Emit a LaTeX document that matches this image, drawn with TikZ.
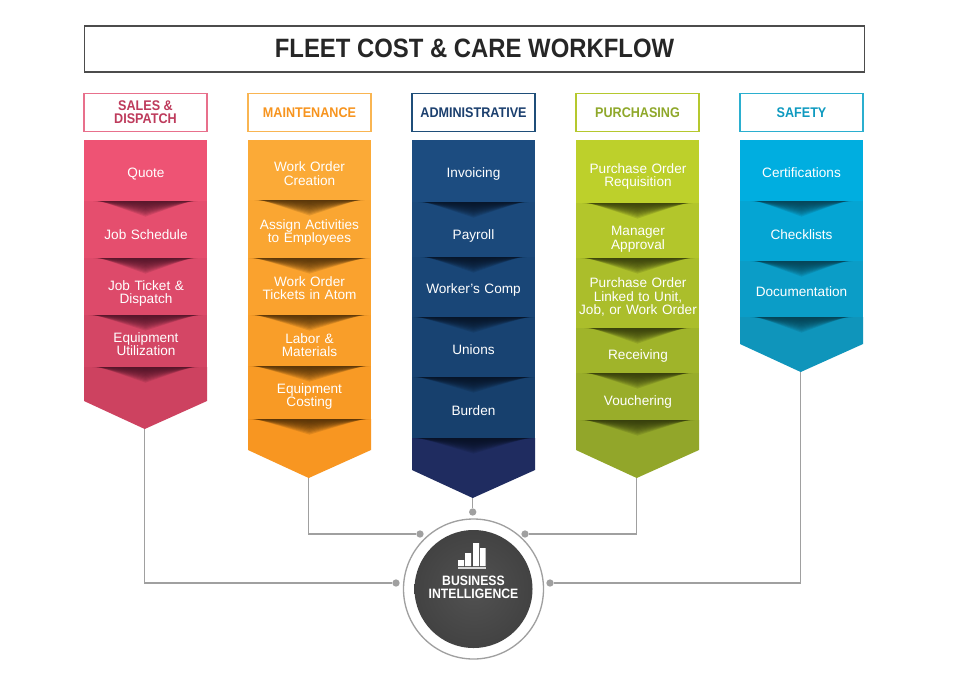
\documentclass[tikz,border=0pt]{standalone}
\usepackage{fontspec}
\setmainfont{Liberation Sans}
\newfontfamily\headf{Liberation Sans}[FakeStretch=0.9]
\newcommand{\fsize}[1]{\fontsize{#1}{#1}\selectfont}
\newcommand{\colbody}[6]{% name, cx, shoulder, colA, colB, separators
  \foreach \yy [remember=\yy as \lasty (initially 140)] in {#6}{
    \pgfmathtruncatemacro\pp{100-(\lasty-140)/(#3+28-140)*100}
    \fill[#4!\pp!#5] ({#2-61.5},\lasty) rectangle ({#2+61.5},\yy);
  }
  \coordinate (#1tip) at ({#2-0.8},#3+28);
}
\newcommand{\collast}[6]{% name cx lastsep shoulder colA colB
  \pgfmathtruncatemacro\pp{100-(#3-140)/(#4+28-140)*100}
  \fill[#5!\pp!#6] ({#2-61.5},#3) -- ({#2+61.5},#3) -- ({#2+61.5},#4) -- ({#2-0.8},#4+28) -- ({#2-61.5},#4) -- cycle;
}
\newcommand{\chev}[4]{% cx y halfwidth dark
  \foreach \k in {1,...,12}{
    \fill[#4,opacity=0.13] ({#1-#3+\k*0.7},#2) -- ({#1+#3-\k*0.7},#2) -- (#1,{#2+\k*1.3}) -- cycle;
  }
}
\tikzset{
  conn/.style={draw=linegray,line width=1pt},
  dotn/.style={circle,fill=linegray,minimum size=5.5pt,inner sep=0pt},
  stepl/.style={text=white,align=center,font=\fontsize{10.2}{10.3}\selectfont,text width=90pt,inner sep=0pt,yshift=-0.75pt},
  headb/.style={fill=white,line width=1.1pt,minimum width=92pt,minimum height=28.5pt,align=center,inner sep=0pt,font=\headf\bfseries\fsize{10.5}},
}
\definecolor{linegray}{HTML}{A0A0A0}
\definecolor{redA}{HTML}{EE5374}\definecolor{redB}{HTML}{C43E5B}\definecolor{redD}{HTML}{3E0E20}
\definecolor{redL}{HTML}{E8708C}\definecolor{redT}{HTML}{BE3B5C}
\definecolor{orA}{HTML}{FBAA37}\definecolor{orB}{HTML}{F7921C}\definecolor{orD}{HTML}{3A2204}
\definecolor{orL}{HTML}{F9B552}\definecolor{orT}{HTML}{F7941E}
\definecolor{blA}{HTML}{1C4C80}\definecolor{blM}{HTML}{143A64}\definecolor{blB}{HTML}{1F2C60}\definecolor{blD}{HTML}{060E1C}
\definecolor{blL}{HTML}{1F4E79}\definecolor{blT}{HTML}{1B3F6E}
\definecolor{grA}{HTML}{BDD02B}\definecolor{grB}{HTML}{899D2A}\definecolor{grD}{HTML}{262B08}
\definecolor{grL}{HTML}{B5C82E}\definecolor{grT}{HTML}{8FA82A}
\definecolor{cyA}{HTML}{00AEE0}\definecolor{cyB}{HTML}{148DB0}\definecolor{cyD}{HTML}{053442}
\definecolor{cyL}{HTML}{2BAFCF}\definecolor{cyT}{HTML}{0E9AC0}
\begin{document}
\begin{tikzpicture}[x=0.75pt,y=-0.75pt]
\useasboundingbox (0,0) rectangle (960,683);
\fill[white] (0,0) rectangle (960,683);
% title
\node[draw=black!70,line width=0.9pt,minimum width=585.5pt,minimum height=34.5pt,inner sep=0pt,font=\headf\bfseries\fsize{19.9},text=black!85] (title) at (474.5,49) {\raisebox{0.7pt}{FLEET COST \& CARE WORKFLOW}};
% headers
\node[headb,draw=redL,text=redT] (h1) at (145.5,112.5) {\raisebox{-0.7pt}{SALES \&}\\[-0.7pt]\raisebox{-0.7pt}{DISPATCH}};
\node[headb,draw=orL,text=orT] (h2) at (309.5,112.5) {MAINTENANCE};
\node[headb,draw=blL,text=blT] (h3) at (473.5,112.5) {ADMINISTRATIVE};
\node[headb,draw=grL,text=grT] (h4) at (637.5,112.5) {PURCHASING};
\node[headb,draw=cyL,text=cyT] (h5) at (801.5,112.5) {SAFETY};
% column bodies
\colbody{a}{145.5}{401}{redA}{redB}{201,258,315,367}
\collast{a}{145.5}{367}{401}{redA}{redB}
\colbody{b}{309.5}{450}{orA}{orB}{200,258,315,366,419}
\collast{b}{309.5}{419}{450}{orA}{orB}
\colbody{c}{473.5}{470}{blA}{blM}{202,257,317,377,438}
\collast{c}{473.5}{438}{470}{blB}{blB}
\colbody{d}{637.5}{450}{grA}{grB}{203,258,328,373,420}
\collast{d}{637.5}{420}{450}{grA}{grB}
\colbody{e}{801.5}{344}{cyA}{cyB}{201,261,317}
\collast{e}{801.5}{317}{344}{cyA}{cyB}
% chevrons
\chev{145.5}{201}{53}{redD}
\chev{145.5}{258}{53}{redD}
\chev{145.5}{315}{58}{redD}
\chev{145.5}{367}{54}{redD}
\chev{309.5}{200}{56}{orD}
\chev{309.5}{258}{61.5}{orD}
\chev{309.5}{315}{60}{orD}
\chev{309.5}{366}{61.5}{orD}
\chev{309.5}{419}{61.5}{orD}
\chev{473.5}{202}{56}{blD}
\chev{473.5}{257}{54}{blD}
\chev{473.5}{317}{61.5}{blD}
\chev{473.5}{377}{61.5}{blD}
\chev{473.5}{438}{61.5}{blD}
\chev{637.5}{203}{56}{grD}
\chev{637.5}{258}{58}{grD}
\chev{637.5}{328}{54}{grD}
\chev{637.5}{373}{56}{grD}
\chev{637.5}{420}{58}{grD}
\chev{801.5}{201}{52}{cyD}
\chev{801.5}{261}{52}{cyD}
\chev{801.5}{317}{52}{cyD}
% step labels
\node[stepl] (a1) at (146,173.5) {Quote};
\node[stepl] (a2) at (146,234) {Job Schedule};
\node[stepl] (a3) at (146,292.5) {Job Ticket \&\\Dispatch};
\node[stepl] (a4) at (146,343) {Equipment\\Utilization};
\node[stepl] (b1) at (309.5,172.5) {Work Order\\Creation};
\node[stepl] (b2) at (309.5,231.5) {Assign Activities\\to Employees};
\node[stepl] (b3) at (309.5,287) {Work Order\\Tickets in Atom};
\node[stepl] (b4) at (309.5,344) {Labor \&\\Materials};
\node[stepl] (b5) at (309.5,395.5) {Equipment\\Costing};
\node[stepl] (c1) at (473.5,172.5) {Invoicing};
\node[stepl] (c2) at (473.5,234.5) {Payroll};
\node[stepl] (c3) at (473.5,288.5) {Worker’s Comp};
\node[stepl] (c4) at (473.5,349) {Unions};
\node[stepl] (c5) at (473.5,410) {Burden};
\node[stepl] (d1) at (638,175.5) {Purchase Order\\Requisition};
\node[stepl] (d2) at (638,238.5) {Manager\\Approval};
\node[stepl] (d3) at (638,296) {Purchase Order\\Linked to Unit,\\Job, or Work Order};
\node[stepl] (d4) at (638,354.5) {Receiving};
\node[stepl] (d5) at (638,400.5) {Vouchering};
\node[stepl] (e1) at (801.5,172) {Certifications};
\node[stepl] (e2) at (801.5,234) {Checklists};
\node[stepl] (e3) at (801.5,290.5) {Documentation};
% hub
\node[circle,draw=linegray,fill=white,line width=1pt,minimum size=105pt,inner sep=0pt] (ring) at (473.5,589) {};
\node[circle,inner color=black!68,outer color=black!74,minimum size=88.5pt,inner sep=0pt] (hub) at (473.5,589) {};
\fill[white] (458,560) rectangle (464,566) (465,553) rectangle (471,566) (473,543) rectangle (479,566) (480,548) rectangle (485.5,566);
\fill[black!15] (458,567) rectangle (486,568.5);
\node[text=white,align=center,font=\headf\bfseries\fsize{10.2},inner sep=0pt] (bi) at (473.5,587.5) {BUSINESS\\[-0.45pt]INTELLIGENCE};
% dots
\node[dotn] (p1) at (396,583) {};
\node[dotn] (p2) at (420,534) {};
\node[dotn] (p3) at (472.7,512) {};
\node[dotn] (p4) at (525,534) {};
\node[dotn] (p5) at (550,583) {};
% connectors
\draw[conn] (atip) |- (p1);
\draw[conn] (btip) |- (p2);
\draw[conn] (ctip) -- (p3);
\draw[conn] (dtip) |- (p4);
\draw[conn] (etip) |- (p5);
\end{tikzpicture}
\end{document}
